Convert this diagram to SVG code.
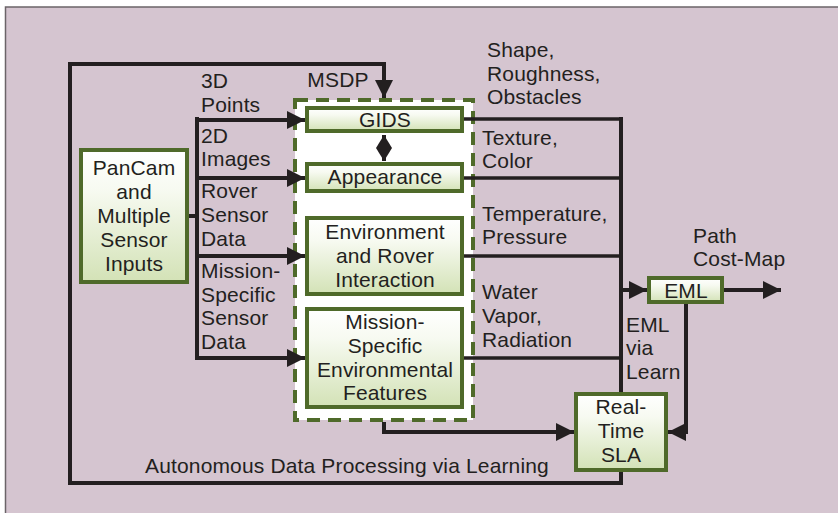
<svg xmlns="http://www.w3.org/2000/svg" width="838" height="513" viewBox="0 0 838 513">
  <defs>
    <linearGradient id="boxFill" x1="0" y1="0" x2="0" y2="1">
      <stop offset="0" stop-color="#ffffff"/>
      <stop offset="0.3" stop-color="#f7faf1"/>
      <stop offset="1" stop-color="#d3e2b6"/>
    </linearGradient>
    <marker id="arrow" markerUnits="userSpaceOnUse" markerWidth="19" markerHeight="18" refX="18" refY="9" orient="auto-start-reverse" viewBox="0 0 19 18">
      <path d="M0,0 L18,9 L0,18 z" fill="#231f20"/>
    </marker>
    <marker id="arrowSmall" markerUnits="userSpaceOnUse" markerWidth="14" markerHeight="16" refX="13" refY="8" orient="auto-start-reverse" viewBox="0 0 14 16">
      <path d="M0,0 L13,8 L0,16 z" fill="#231f20"/>
    </marker>
  </defs>
  <style>
    .panel { fill: #d5c5d0; stroke: #6b6468; stroke-width: 1.5; }
    .box { fill: url(#boxFill); stroke: #4f6a2a; stroke-width: 4; }
    .msdp { fill: #ffffff; stroke: #4f6a2a; stroke-width: 4; stroke-dasharray: 13 8; }
    .wire { fill: none; stroke: #231f20; stroke-width: 4; stroke-linejoin: miter; }
    .wire-thin { fill: none; stroke: #231f20; stroke-width: 3.5; }
    text { font-family: "Liberation Sans", Arial, Helvetica, sans-serif; font-size: 21px; letter-spacing: 0.15px; fill: #231f20; }
    .c { text-anchor: middle; }
  </style>

  <!-- background panel -->
  <rect x="0" y="0" width="838" height="513" fill="#ffffff"/>
  <rect class="panel" x="5.5" y="7" width="840" height="520"/>

  <!-- MSDP container -->
  <g id="msdp">
    <rect class="msdp" x="295" y="100" width="178" height="320"/>
    <text x="338" y="87" class="c">MSDP</text>
  </g>

  <g id="connectors">
    <!-- sensor inputs fan-out -->
    <path class="wire" d="M189,216 H197"/>
    <path class="wire" d="M197,117 V360"/>
    <path class="wire" d="M195,120 H305" marker-end="url(#arrow)"/>
    <path class="wire" d="M195,178 H305" marker-end="url(#arrow)"/>
    <path class="wire" d="M195,256 H305" marker-end="url(#arrow)"/>
    <path class="wire" d="M195,358 H305" marker-end="url(#arrow)"/>
    <!-- feedback loop from SLA back into MSDP -->
    <path class="wire" d="M621,472 V483 H70 V64 H384 V98" marker-end="url(#arrow)"/>
    <!-- GIDS / Appearance exchange -->
    <path class="wire" d="M384,135 V161" marker-start="url(#arrowSmall)" marker-end="url(#arrowSmall)"/>
    <!-- feature outputs to the collector bus -->
    <path class="wire-thin" d="M464,119 H621"/>
    <path class="wire-thin" d="M464,178 H621"/>
    <path class="wire-thin" d="M464,256 H621"/>
    <path class="wire-thin" d="M464,358 H621"/>
    <path class="wire" d="M621,117 V392"/>
    <path class="wire" d="M621,290 H647" marker-end="url(#arrow)"/>
    <!-- EML output -->
    <path class="wire" d="M724,290 H781" marker-end="url(#arrow)"/>
    <!-- EML to SLA -->
    <path class="wire" d="M686,304 V432 H668" marker-end="url(#arrow)"/>
    <!-- MSDP to SLA -->
    <path class="wire" d="M384,422 V432 H574" marker-end="url(#arrow)"/>
  </g>

  <g id="pancam">
    <rect class="box" x="81" y="150" width="106" height="132"/>
    <text x="134" y="175" class="c">PanCam</text>
    <text x="134" y="199" class="c">and</text>
    <text x="134" y="223" class="c">Multiple</text>
    <text x="134" y="247" class="c">Sensor</text>
    <text x="134" y="271" class="c">Inputs</text>
  </g>

  <g id="gids">
    <rect class="box" x="307" y="108" width="155" height="23"/>
    <text x="385" y="127" class="c">GIDS</text>
  </g>

  <g id="appearance">
    <rect class="box" x="307" y="164" width="155" height="27"/>
    <text x="385" y="184" class="c">Appearance</text>
  </g>

  <g id="environment">
    <rect class="box" x="307" y="218" width="155" height="76"/>
    <text x="385" y="239" class="c">Environment</text>
    <text x="385" y="263" class="c">and Rover</text>
    <text x="385" y="287" class="c">Interaction</text>
  </g>

  <g id="mission-features">
    <rect class="box" x="307" y="309" width="155" height="98"/>
    <text x="385" y="329" class="c">Mission-</text>
    <text x="385" y="353" class="c">Specific</text>
    <text x="385" y="377" class="c">Environmental</text>
    <text x="385" y="400" class="c">Features</text>
  </g>

  <g id="eml">
    <rect class="box" x="649" y="278" width="73" height="24"/>
    <text x="686" y="298" class="c">EML</text>
  </g>

  <g id="sla">
    <rect class="box" x="576" y="394" width="90" height="76"/>
    <text x="621" y="414" class="c">Real-</text>
    <text x="621" y="438" class="c">Time</text>
    <text x="621" y="462" class="c">SLA</text>
  </g>

  <g id="labels">
    <text x="201" y="88">3D</text>
    <text x="201" y="112">Points</text>
    <text x="201" y="143">2D</text>
    <text x="201" y="166">Images</text>
    <text x="201" y="198">Rover</text>
    <text x="201" y="222">Sensor</text>
    <text x="201" y="246">Data</text>
    <text x="201" y="278">Mission-</text>
    <text x="201" y="302">Specific</text>
    <text x="201" y="325">Sensor</text>
    <text x="201" y="349">Data</text>

    <text x="487" y="57">Shape,</text>
    <text x="487" y="81">Roughness,</text>
    <text x="487" y="104">Obstacles</text>
    <text x="482" y="145">Texture,</text>
    <text x="482" y="168">Color</text>
    <text x="482" y="221">Temperature,</text>
    <text x="482" y="244">Pressure</text>
    <text x="482" y="299">Water</text>
    <text x="482" y="323">Vapor,</text>
    <text x="482" y="347">Radiation</text>

    <text x="626" y="332">EML</text>
    <text x="626" y="355">via</text>
    <text x="626" y="379">Learn</text>

    <text x="693" y="243">Path</text>
    <text x="693" y="266">Cost-Map</text>

    <text x="145" y="473">Autonomous Data Processing via Learning</text>
  </g>
</svg>
